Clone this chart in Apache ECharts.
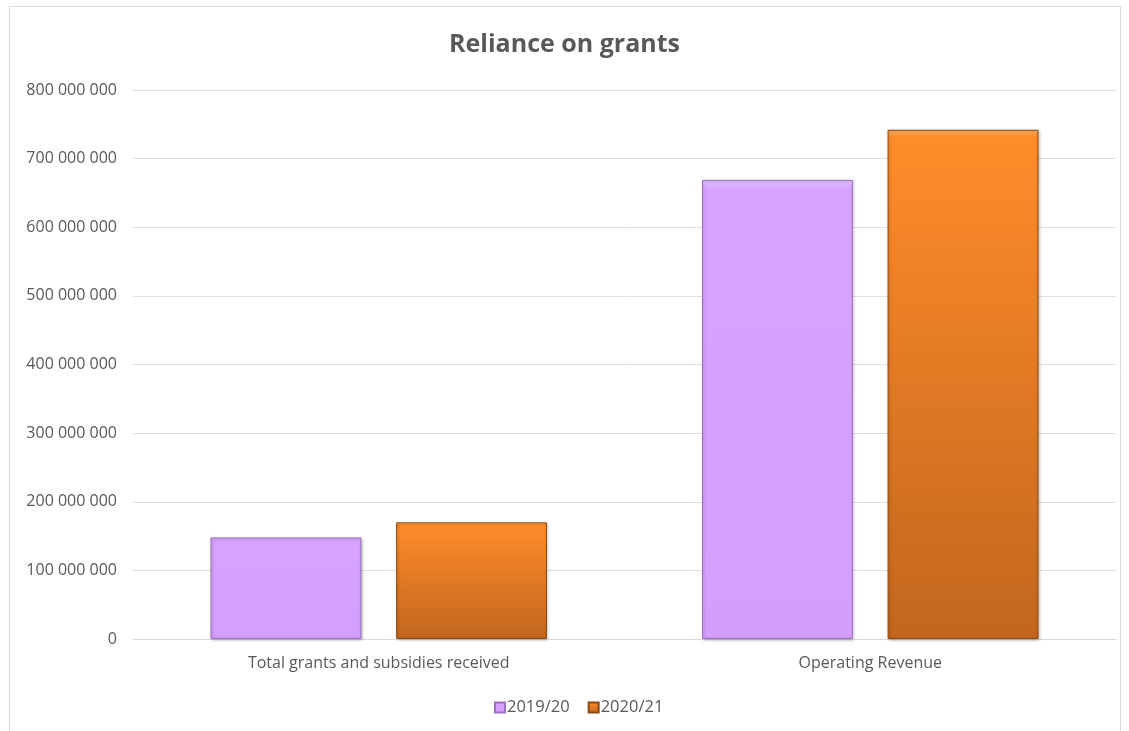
<!DOCTYPE html>
<html>
<head>
<meta charset="utf-8">
<script src="https://cdn.jsdelivr.net/npm/echarts@6/dist/echarts.min.js"></script>
<style>html,body{margin:0;padding:0;background:#fff;}#c{width:1129px;height:731px;}</style>
</head>
<body>
<div id="c"></div>
<script>
const categories = ['Total grants and subsidies received', 'Operating Revenue'];
const seriesNames = ['2019/20', '2020/21'];
const values2019 = [148000000, 669000000];
const values2020 = [170000000, 742000000];
const yTicks = [0, 100000000, 200000000, 300000000, 400000000, 500000000, 600000000, 700000000, 800000000];

function fmt(v) {
  return String(v).replace(/\B(?=(\d{3})+(?!\d))/g, ' ');
}
const chart = echarts.init(document.getElementById('c'));
const font = '"Open Sans", "Noto Sans", sans-serif';
chart.setOption({
  backgroundColor: '#fff',
  animation: false,
  title: {
    text: 'Reliance on grants', left: 'center', top: 27,
    textStyle: { fontFamily: font, fontSize: 25, fontWeight: 'bold', color: '#595959' }
  },
  graphic: [{
    type: 'rect', shape: { x: 9.5, y: 6.5, width: 1111, height: 730 },
    style: { fill: 'none', stroke: '#d9d9d9', lineWidth: 1 }, silent: true, z: -1
  }],
  legend: {
    data: seriesNames, top: 694, left: 489, itemWidth: 10, itemHeight: 10, itemGap: 18,
    icon: 'rect',
    textStyle: { fontFamily: font, fontSize: 16.5, color: '#595959', padding: [0, 0, 0, -3] }
  },
  grid: { left: 133, right: 13, top: 90, bottom: 92 },
  xAxis: {
    type: 'category', data: categories,
    axisLine: { lineStyle: { color: '#d9d9d9' } },
    axisTick: { show: false },
    axisLabel: { fontFamily: font, fontSize: 16, color: '#595959', margin: 16 }
  },
  yAxis: {
    type: 'value', min: yTicks[0], max: yTicks[yTicks.length - 1], interval: 100000000,
    axisLine: { show: false }, axisTick: { show: false },
    splitLine: { lineStyle: { color: '#e0e0e0' } },
    axisLabel: { fontFamily: font, fontSize: 16, color: '#595959', margin: 16, formatter: fmt }
  },
  series: [{
    name: seriesNames[0], type: 'bar', data: values2019, barWidth: '30.7%', barGap: '23%',
    itemStyle: {
      color: new echarts.graphic.LinearGradient(0, 0, 0, 1, [
        { offset: 0, color: '#e4c2ff' }, { offset: 0.02, color: '#d7a3ff' }, { offset: 1, color: '#d49efc' }
      ]),
      borderColor: '#9d6fc0', borderWidth: 1,
      shadowColor: 'rgba(0,0,0,0.25)', shadowBlur: 3, shadowOffsetX: 1, shadowOffsetY: 1
    }
  }, {
    name: seriesNames[1], type: 'bar', data: values2020, barWidth: '30.7%',
    itemStyle: {
      color: new echarts.graphic.LinearGradient(0, 0, 0, 1, [
        { offset: 0, color: '#ffb060' }, { offset: 0.015, color: '#ff8c2a' }, { offset: 1, color: '#c2661e' }
      ]),
      borderColor: '#8a4a14', borderWidth: 1,
      shadowColor: 'rgba(0,0,0,0.25)', shadowBlur: 3, shadowOffsetX: 1, shadowOffsetY: 1
    }
  }]
});
</script>
</body>
</html>
